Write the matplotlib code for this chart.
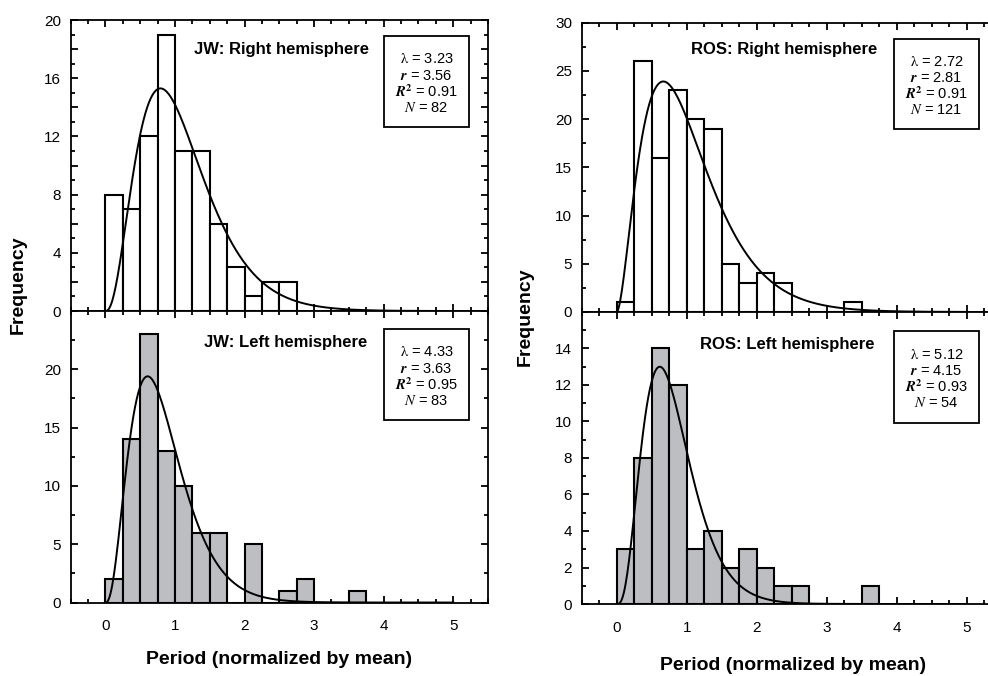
import numpy as np
import matplotlib
matplotlib.use("Agg")
import matplotlib.pyplot as plt
from matplotlib.patches import Rectangle
from matplotlib.ticker import MultipleLocator, FuncFormatter

# histogram counts, bins of width 0.25 starting at 0
bin_width = 0.25
jw_right_counts = [8, 7, 12, 19, 11, 11, 6, 3, 1, 2, 2]
jw_left_counts = [2, 14, 23, 13, 10, 6, 6, 0, 5, 0, 1, 2, 0, 0, 1]
ros_right_counts = [1, 26, 16, 23, 20, 19, 5, 3, 4, 3, 0, 0, 0, 1]
ros_left_counts = [3, 8, 14, 12, 3, 4, 2, 3, 2, 1, 1, 0, 0, 0, 1]

titles = ["JW: Right hemisphere", "JW: Left hemisphere",
          "ROS: Right hemisphere", "ROS: Left hemisphere"]

# gamma fit parameters shown in the boxes
lam = [3.23, 4.33, 2.72, 5.12]
shape_r = [3.56, 3.63, 2.81, 4.15]
r_squared = [0.91, 0.95, 0.91, 0.93]
n_obs = [82, 83, 121, 54]
# height of the fitted curve at its mode
curve_peak = [15.3, 19.4, 23.9, 13.0]

y_max = [20, 25, 30, 16]

plt.rcParams["font.family"] = ["Liberation Sans", "DejaVu Sans"]
plt.rcParams["mathtext.fontset"] = "stix"

fig = plt.figure(figsize=(9.88, 6.76), dpi=100)

# panel layout: [left, bottom, width, height] in figure fraction
positions = [
    [0.0714, 0.5399, 0.4226, 0.4305],
    [0.0714, 0.1087, 0.4226, 0.4312],
    [0.5888, 0.5385, 0.4249, 0.4280],
    [0.5888, 0.1065, 0.4249, 0.4320],
]
title_pos = [(0.505, 0.897), (0.516, 0.891), (0.482, 0.906), (0.489, 0.890)]
box_pos = [(0.751, 0.632, 0.954, 0.945), (0.751, 0.626, 0.954, 0.938),
           (0.744, 0.633, 0.946, 0.944), (0.744, 0.620, 0.946, 0.935)]
major_step = [2, 5, 5, 2]
label_step = [4, 5, 5, 2]
minor_step = [1, 2.5, 2.5, 1]
is_lower = [False, True, False, True]

all_counts = [jw_right_counts, jw_left_counts, ros_right_counts, ros_left_counts]

for i in range(4):
    ax = fig.add_axes(positions[i])
    counts = np.array(all_counts[i])
    left_edges = np.arange(len(counts)) * bin_width
    fill = "#bdbec2" if is_lower[i] else "white"
    ax.bar(left_edges, counts, width=bin_width, align="edge",
           color=fill, edgecolor="black", linewidth=1.5, zorder=2)

    # fitted gamma curve, scaled to the peak height
    mode = (shape_r[i] - 1) / lam[i]
    x = np.linspace(0, 5.0, 400)
    y = curve_peak[i] * (x / mode) ** (shape_r[i] - 1) * np.exp(-lam[i] * (x - mode))
    ax.plot(x, y, color="black", linewidth=1.4, zorder=3)

    ax.set_xlim(-0.5, 5.5)
    ax.set_ylim(0, y_max[i])

    ax.xaxis.set_major_locator(MultipleLocator(1))
    ax.xaxis.set_minor_locator(MultipleLocator(0.25))
    ax.yaxis.set_major_locator(MultipleLocator(major_step[i]))
    ax.yaxis.set_minor_locator(MultipleLocator(minor_step[i]))

    def ylab(v, pos, step=label_step[i], top=y_max[i], lower=is_lower[i]):
        if abs(v / step - round(v / step)) > 1e-6:
            return ""
        if lower and abs(v - top) < 1e-6:
            return ""
        return "%d" % round(v)
    ax.yaxis.set_major_formatter(FuncFormatter(ylab))

    ax.tick_params(which="both", direction="in", top=True, right=True, width=1.3)
    ax.tick_params(which="major", length=5)
    ax.tick_params(which="minor", length=3)
    ax.tick_params(axis="y", labelsize=11, pad=7)
    ax.tick_params(axis="x", labelsize=11, pad=12)
    if not is_lower[i]:
        ax.tick_params(axis="x", labelbottom=False)
    for sp in ax.spines.values():
        sp.set_linewidth(1.3)

    ax.text(title_pos[i][0], title_pos[i][1], titles[i], transform=ax.transAxes,
            ha="center", va="center", fontsize=12, fontweight="bold")

    bx0, by0, bx1, by1 = box_pos[i]
    ax.add_patch(Rectangle((bx0, by0), bx1 - bx0, by1 - by0, transform=ax.transAxes,
                           facecolor="white", edgecolor="black", linewidth=1.3, zorder=4))
    lines = [r"$\mathrm{\lambda}$ = %.2f" % lam[i],
             r"$\mathbfit{r}$ = %.2f" % shape_r[i],
             r"$\mathbfit{R}^{\mathbf{2}}$ = %.2f" % r_squared[i],
             r"$N$ = %d" % n_obs[i]]
    cx, cy = (bx0 + bx1) / 2, (by0 + by1) / 2
    for k, line in enumerate(lines):
        ax.annotate(line, xy=(cx, cy), xycoords="axes fraction",
                    xytext=(0, (1.5 - k) * 11.7 - 1.5), textcoords="offset points",
                    ha="center", va="center", fontsize=10.5, zorder=5)

fig.text(18 / 988, 1 - 285 / 676, "Frequency", rotation=90, ha="center", va="center",
         fontsize=14, fontweight="bold")
fig.text(525 / 988, 1 - 317 / 676, "Frequency", rotation=90, ha="center", va="center",
         fontsize=14, fontweight="bold")
fig.text(279 / 988, 1 - 660 / 676, "Period (normalized by mean)", ha="center", va="center",
         fontsize=14, fontweight="bold")
fig.text(793 / 988, 1 - 665 / 676, "Period (normalized by mean)", ha="center", va="center",
         fontsize=14, fontweight="bold")

fig.savefig("out.png", dpi=100)
